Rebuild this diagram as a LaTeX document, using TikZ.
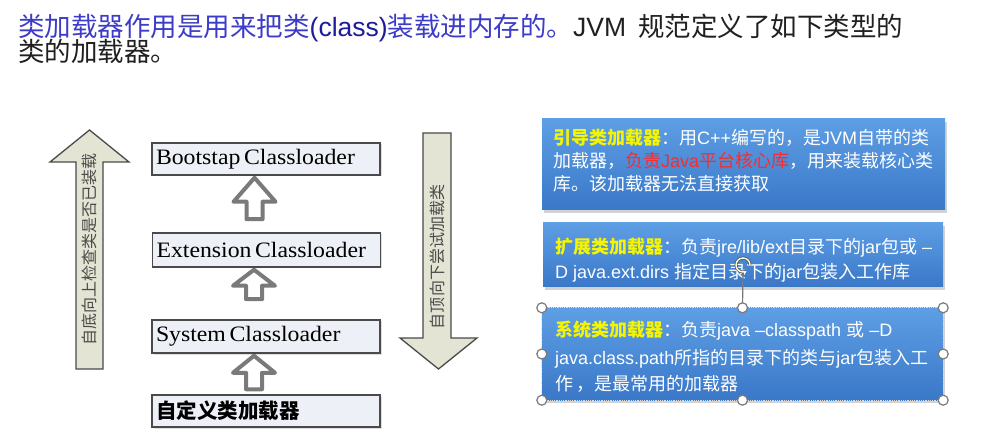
\documentclass[tikz,border=0pt]{standalone}
\usepackage{fontspec}
\usepackage{graphicx}
\setmainfont{Noto Sans CJK SC}
\newfontfamily\ar{Liberation Sans}
\newfontfamily\tms{Liberation Serif}
\usetikzlibrary{shadows,calc,arrows.meta}
\definecolor{tblue}{HTML}{3C3CC8}
\definecolor{tnavy}{HTML}{1C1C9C}
\definecolor{tblack}{HTML}{202020}
\definecolor{beige}{HTML}{E4E4D4}
\definecolor{darkline}{HTML}{4A4A4A}
\definecolor{lboxfill}{HTML}{EEF0F7}
\definecolor{hgray}{HTML}{7A7A7A}
\definecolor{btop}{HTML}{5E9EE4}
\definecolor{bbot}{HTML}{3A78C8}
\definecolor{hlyellow}{HTML}{F5F500}
\definecolor{hlred}{HTML}{FF2A2A}
\newcommand\lat[1]{{\ar #1}}
\newcommand\hly[1]{{\bfseries\color{hlyellow}#1}}
\newcommand\hlr[1]{{\color{hlred}#1}}
\newcommand\hollowup[4]{%
  \draw[hollowarrow] let \p1=(#1.north), \p2=(#2.south) in
    ({\x1-20pt},{\y1+#3pt}) -- ({\x1-20pt},{\y2-2pt-#4pt}) --
    ({\x1-33pt},{\y2-2pt-#4pt}) -- ({\x1-12pt},{\y2-2pt}) --
    ({\x1+9pt},{\y2-2pt-#4pt}) -- ({\x1-4pt},{\y2-2pt-#4pt}) --
    ({\x1-4pt},{\y1+#3pt}) -- cycle;}
\tikzset{
  lbox/.style={draw=darkline, line width=1.5pt, fill=lboxfill,
    minimum width=228pt, text width=220pt, align=left, inner sep=4pt,
    drop shadow={opacity=0.25, shadow xshift=1.5pt, shadow yshift=-1.5pt}},
  rbox/.style={top color=btop, bottom color=bbot, draw=none,
    drop shadow={opacity=0.35, shadow xshift=2pt, shadow yshift=-3pt}},
  rtext/.style={anchor=base west, inner sep=0pt, text=white,
    font=\fontsize{18}{18}\selectfont},
  bigarrow/.style={draw=darkline, line width=1.3pt, fill=beige, line join=miter},
  vtext/.style={rotate=90, text=darkline, inner sep=0pt,
    font=\fontsize{16}{16}\selectfont},
  hollowarrow/.style={draw=hgray, line width=4pt, fill=white, line join=round},
  handle/.style={circle, draw=hgray, fill=white, line width=1.2pt,
    minimum size=10pt, inner sep=0pt},
}
\begin{document}
\begin{tikzpicture}[x=1pt,y=-1pt]
\useasboundingbox[fill=white] (0,0) rectangle (995,443);

% title
\node[anchor=base west, inner sep=0pt, font=\fontsize{26.5}{26.5}\selectfont]
  (title1) at (18,37) {\textcolor{tblue}{类加载器作用是用来把类\lat{\textcolor{tnavy}{(class)}}装载进内存的。}\textcolor{tblack}{\lat{JVM}\hspace{12pt}规范定义了如下类型的}};
\node[anchor=base west, inner sep=0pt, font=\fontsize{26.5}{26.5}\selectfont, text=tblack]
  (title2) at (18,62) {类的加载器。};

% big arrows
\draw[bigarrow] (76,369) -- (76,162) -- (50,162) -- (89.5,130) -- (129,162) -- (103,162) -- (103,369) -- cycle;
\node[vtext] (upl) at (89.5,249) {自底向上检查类是否已装载};
\draw[bigarrow] (423,133) -- (423,338) -- (400,338) -- (438.5,369) -- (477,338) -- (451,338) -- (451,133) -- cycle;
\node[vtext] (downl) at (437,257) {自顶向下尝试加载类};

% left boxes
\node[lbox, minimum height=32pt] (boot) at (266,159)
  {\tms\fontsize{22}{22}\selectfont\scalebox{1.08}[1]{Bootstap Classloader}};
\node[lbox, minimum height=34pt] (ext) at (266.5,250)
  {\tms\fontsize{22}{22}\selectfont\scalebox{1.08}[1]{Extension Classloader}};
\node[lbox, minimum height=33pt] (sys) at (266,336.5)
  {\tms\fontsize{22}{22}\selectfont\scalebox{1.08}[1]{System Classloader}};
\node[lbox, minimum height=32pt] (cust) at (266,411)
  {\bfseries\fontsize{20.5}{20.5}\selectfont 自定义类加载器};

\hollowup{ext}{boot}{13}{24}
\hollowup{sys}{ext}{20}{16}
\hollowup{cust}{sys}{5}{17}

% right boxes
\node[rbox, minimum width=403pt, minimum height=91pt] (b1) at (743.5,164.5) {};
\node[rtext] (b1l1) at (553,145) {\hly{引导类加载器}：用\lat{C++}编写的，是\lat{JVM}自带的类};
\node[rtext] (b1l2) at (553,168) {加载器，\hlr{负责\lat{Java}平台核心库}，用来装载核心类};
\node[rtext] (b1l3) at (553,190.5) {库。该加载器无法直接获取};

\node[rbox, minimum width=400pt, minimum height=64pt] (b2) at (743,255) {};
\node[rtext] (b2l1) at (555,254) {\hly{扩展类加载器}：负责\lat{jre/lib/ext}目录下的\lat{jar}包或\lat{ –}};
\node[rtext] (b2l2) at (555,279) {\lat{D java.ext.dirs }指定目录下的\lat{jar}包装入工作库};

\node[rbox, minimum width=401pt, minimum height=92pt] (b3) at (742.5,354) {};
\draw[white!75!gray, densely dotted, line width=0.8pt] (b3.north west) rectangle (b3.south east);
\node[rtext] (b3l1) at (555,337) {\hly{系统类加载器}：负责\lat{java –classpath }或\lat{ –D}};
\node[rtext] (b3l2) at (555,364) {\lat{java.class.path}所指的目录下的类与\lat{jar}包装入工};
\node[rtext] (b3l3) at (555,390.5) {作\,，是最常用的加载器};

% selection handles
\coordinate (rot) at (743,265);
\draw[hgray, line width=1.2pt] (b3.north) -- ($(rot)+(0,7)$);
\draw[hgray!70!black, line width=3pt]
  ($(rot)+(7,0)$) arc[start angle=0, end angle=-290, radius=7];
\draw[white!85!yellow, line width=1.4pt, -{Stealth[length=4pt,width=5pt]}]
  ($(rot)+(7,0)$) arc[start angle=0, end angle=-300, radius=7];
\foreach \a/\n in {north west/1,north/2,north east/3,west/4,east/5,south west/6,south/7,south east/8}
  \node[handle] (h\n) at (b3.\a) {};
\end{tikzpicture}
\end{document}
